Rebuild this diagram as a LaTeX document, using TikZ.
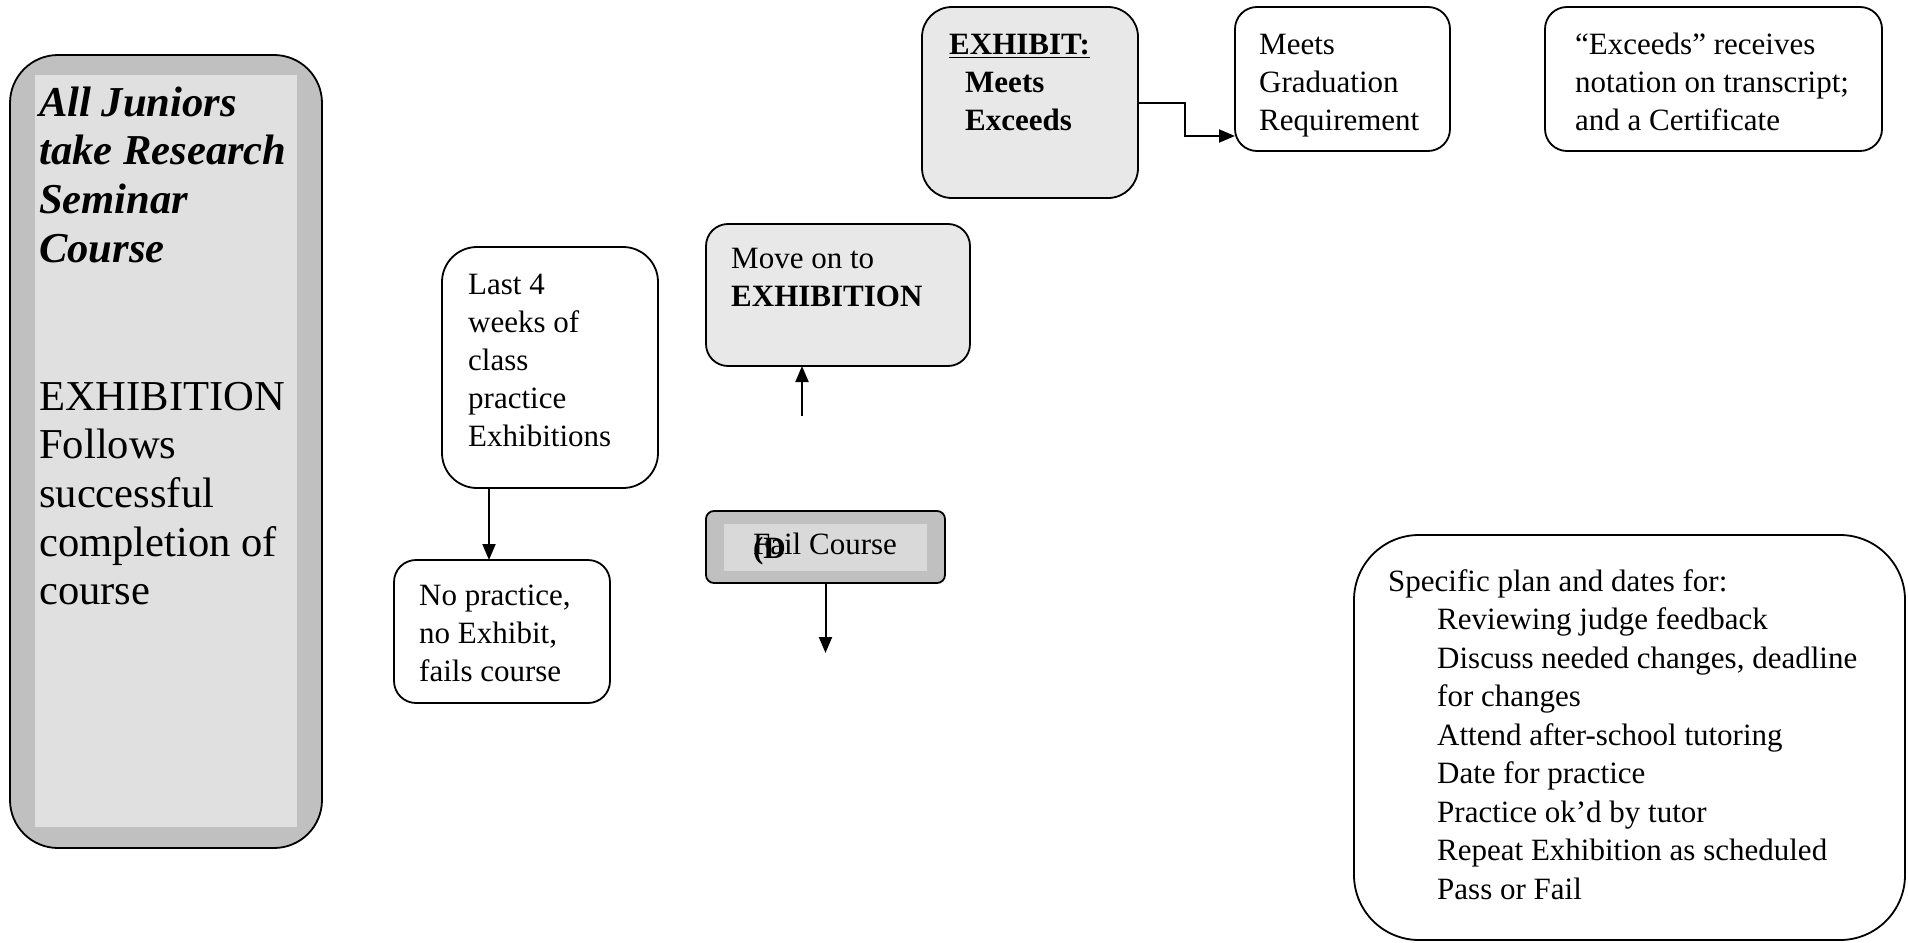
\documentclass[tikz,border=0pt]{standalone}
\usepackage{fontspec}
\setmainfont{Liberation Serif}
\usetikzlibrary{arrows.meta}
\definecolor{boxgray}{HTML}{E8E8E8}
\definecolor{darkgray}{HTML}{C0C0C0}
\definecolor{ingray}{HTML}{E0E0E0}
\definecolor{failin}{HTML}{D9D9D9}
\begin{document}
\begin{tikzpicture}[x=1pt,y=-1pt,
  box/.style={draw=black, line width=1.8pt, anchor=north west, inner sep=0pt, outer sep=0pt},
  txt/.style={anchor=base west, inner sep=0pt, align=left, font=\fontsize{31}{38}\selectfont},
  bigtxt/.style={anchor=base west, inner sep=0pt, align=left, font=\fontsize{42.6}{48.7}\selectfont},
  arr/.style={line width=2pt, -{Triangle[length=16pt,width=13pt]}}]
\useasboundingbox (0,0) rectangle (1908,942);
% left box
\node[box, fill=darkgray, rounded corners=48pt, minimum width=312pt, minimum height=793pt] (left) at (10,55) {};
\node[anchor=north west, fill=ingray, inner sep=0pt, minimum width=262pt, minimum height=752pt] (leftin) at (35,75) {};
\node[bigtxt] (lefttxt) at (39,262.1) {\bfseries\itshape All Juniors\\\bfseries\itshape take Research\\\bfseries\itshape Seminar\\\bfseries\itshape Course};
\node[bigtxt] (lefttxt2) at (39,604.8) {EXHIBITION\\Follows\\successful\\completion of\\course};
% exhibit box
\node[box, fill=boxgray, rounded corners=30pt, minimum width=216pt, minimum height=191pt] (exh) at (922,7) {};
\node[txt, font=\fontsize{31}{38}\selectfont\bfseries] (exhtxt) at (949,55) {\underline{EXHIBIT:}};
\node[txt, font=\fontsize{31}{38}\selectfont\bfseries] (exhtxt2) at (965,130) {Meets\\Exceeds};
% meets box
\node[box, fill=white, rounded corners=22pt, minimum width=215pt, minimum height=144pt] (meets) at (1235,7) {};
\node[txt] (meetstxt) at (1259,130) {Meets\\Graduation\\Requirement};
% exceeds box
\node[box, fill=white, rounded corners=22pt, minimum width=337pt, minimum height=144pt] (exc) at (1545,7) {};
\node[txt] (exctxt) at (1575,130) {“Exceeds” receives\\notation on transcript;\\and a Certificate};
% last 4 weeks
\node[box, fill=white, rounded corners=35pt, minimum width=216pt, minimum height=241pt] (last) at (442,247) {};
\node[txt] (lasttxt) at (468,446) {Last 4\\weeks of\\class\\practice\\Exhibitions};
% no practice
\node[box, fill=white, rounded corners=22pt, minimum width=216pt, minimum height=143pt] (nop) at (394,560) {};
\node[txt] (noptxt) at (419,681) {No practice,\\no Exhibit,\\fails course};
% move on
\node[box, fill=boxgray, rounded corners=22pt, minimum width=264pt, minimum height=142pt] (move) at (706,224) {};
\node[txt] (movetxt) at (731,306) {Move on to\\\textbf{EXHIBITION}};
% fail course
\node[box, fill=darkgray, rounded corners=8pt, minimum width=239pt, minimum height=72pt] (fail) at (706,511) {};
\node[anchor=north west, fill=failin, inner sep=0pt, minimum width=203pt, minimum height=47pt] (failinner) at (724,524) {};
\node[anchor=base, inner sep=0pt, font=\fontsize{31}{38}\selectfont] (failtxt) at (825,554) {\rlap{\raisebox{-4pt}{\bfseries(D}}Fail Course};
% specific plan
\node[box, fill=white, rounded corners=65pt, minimum width=551pt, minimum height=405pt] (spec) at (1354,535) {};
\node[txt] (spectxt) at (1388,591) {Specific plan and dates for:};
\node[txt, font=\fontsize{31}{38.5}\selectfont] (spectxt2) at (1437,899) {Reviewing judge feedback\\Discuss needed changes, deadline\\for changes\\Attend after-school tutoring\\Date for practice\\Practice ok’d by tutor\\Repeat Exhibition as scheduled\\Pass or Fail};
% connectors
\draw[arr] (exh.east) -- ++(47,0) |- ([yshift=-57pt]meets.west);
\draw[arr] ([xshift=-61pt]last.south) -- ([xshift=-61pt]last.south |- nop.north);
\coordinate (mvup) at (802,416);
\draw[arr] (mvup) -- (mvup |- move.south);
\coordinate (faildn) at (825,653);
\draw[arr] (fail.south) -- (fail.south |- faildn);
\end{tikzpicture}
\end{document}
